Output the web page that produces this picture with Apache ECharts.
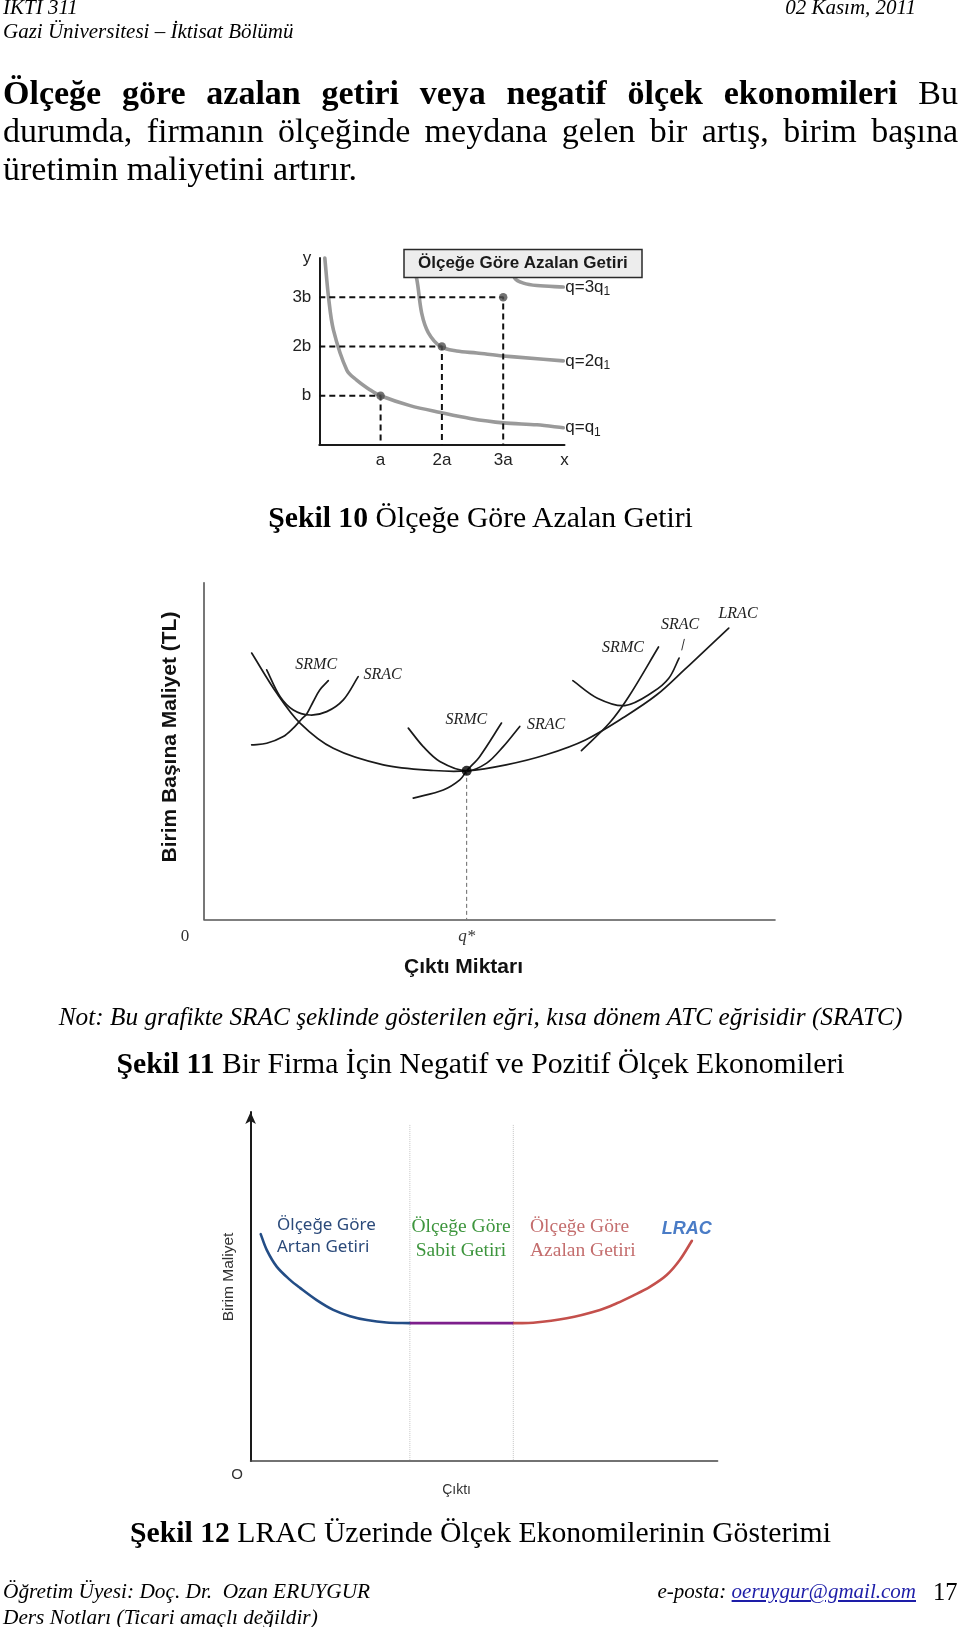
<!DOCTYPE html>
<html><head><meta charset="utf-8">
<script src="https://cdn.jsdelivr.net/npm/echarts@6/dist/echarts.min.js"></script>
<style>
html,body{margin:0;padding:0;background:#fff;}
#page{position:relative;width:960px;height:1627px;overflow:hidden;background:#fff;}
#chart{position:absolute;left:0;top:0;width:960px;height:1627px;}
.t{position:absolute;font-family:'Liberation Serif','Times New Roman',serif;color:#000;white-space:pre;}
.j{text-align:justify;text-align-last:justify;white-space:normal;}
a{color:#1d1da8;}
</style></head><body>
<div id="page">
<div id="chart"></div>
<div class="t" style="left:3px;top:-5px;font-size:21px;line-height:24px;font-style:italic">IKTI 311</div>
<div class="t" style="left:3px;top:19px;font-size:21px;line-height:24px;font-style:italic">Gazi Üniversitesi – İktisat Bölümü</div>
<div class="t" style="right:44px;top:-5px;font-size:21px;line-height:24px;font-style:italic">02 Kasım, 2011</div>

<div class="t j" style="left:3px;top:73.5px;width:955px;font-size:34px;line-height:38px"><b>Ölçeğe göre azalan getiri veya negatif ölçek ekonomileri</b> Bu</div>
<div class="t j" style="left:3px;top:111.5px;width:955px;font-size:34px;line-height:38px">durumda, firmanın ölçeğinde meydana gelen bir artış, birim başına</div>
<div class="t" style="left:3px;top:149.5px;font-size:34px;line-height:38px">üretimin maliyetini artırır.</div>

<div class="t" style="left:0;width:961px;text-align:center;top:500px;font-size:29.7px;line-height:34px"><b>Şekil 10</b> Ölçeğe Göre Azalan Getiri</div>
<div class="t" style="left:0;width:961px;text-align:center;top:999px;font-size:25.3px;line-height:34px;font-style:italic">Not: Bu grafikte SRAC şeklinde gösterilen eğri, kısa dönem ATC eğrisidir (SRATC)</div>
<div class="t" style="left:0;width:961px;text-align:center;top:1046px;font-size:29.7px;line-height:34px"><b>Şekil 11</b> Bir Firma İçin Negatif ve Pozitif Ölçek Ekonomileri</div>
<div class="t" style="left:0;width:961px;text-align:center;top:1515px;font-size:29.7px;line-height:34px"><b>Şekil 12</b> LRAC Üzerinde Ölçek Ekonomilerinin Gösterimi</div>

<div class="t" style="left:3px;top:1579px;font-size:21.3px;line-height:24px;font-style:italic">Öğretim Üyesi: Doç. Dr.  Ozan ERUYGUR</div>
<div class="t" style="left:3px;top:1605px;font-size:21.3px;line-height:24px;font-style:italic">Ders Notları (Ticari amaçlı değildir)</div>
<div class="t" style="right:44px;top:1579px;font-size:21px;line-height:24px;font-style:italic">e-posta: <a href="mailto:oeruygur@gmail.com">oeruygur@gmail.com</a></div>
<div class="t" style="left:933px;top:1578px;font-size:24.5px;line-height:28px">17</div>
</div>
<script>
// ---------- Şekil 10 data ----------
const fig10XTicks = [{value:1,label:'a'},{value:2,label:'2a'},{value:3,label:'3a'},{value:4,label:'x'}];
const fig10YTicks = [{value:1,label:'b'},{value:2,label:'2b'},{value:3,label:'3b'},{value:3.8,label:'y'}];
const fig10Q1 = [[0.09,3.8],[0.15,3.01],[0.23,2.34],[0.45,1.52],[0.61,1.32],[0.83,1.12],[1.0,1.0],[1.48,0.8],[1.98,0.66],[2.46,0.54],[3.0,0.45],[3.55,0.41],[3.98,0.35]];
const fig10Q2 = [[1.5,3.75],[1.59,3.37],[1.67,2.68],[1.78,2.28],[1.98,2.0],[2.24,1.91],[2.57,1.87],[3.0,1.81],[3.98,1.71]];
const fig10Q3 = [[3.1,3.75],[3.19,3.39],[3.33,3.29],[3.55,3.24],[3.98,3.21]];
const fig10Points = [[1,1],[2,2],[3,3]];
const fig10CurveNames = ['q=q', 'q=2q', 'q=3q'];

// ---------- Şekil 11 data ----------
const fig11XTicks = [{value:0,label:'0'},{value:46,label:'q*'}];
const fig11LRAC = [[8.35,79.1],[12.73,67.2],[16.81,58.3],[22.64,50.8],[31.4,45.9],[40.2,44.2],[46.0,44.1],[52.9,45.9],[59.9,48.9],[66.8,53.3],[73.7,60.2],[79.3,66.7],[84.1,74.1],[91.9,86.5]];
const fig11SRAC1 = [[10.98,74.1],[13.31,66.2],[15.64,62.2],[18.56,60.7],[21.49,61.7],[24.4,65.2],[27.0,72.1]];
const fig11SRMC1 = [[8.35,51.8],[10.98,52.3],[13.89,54.3],[15.64,56.8],[17.11,59.5],[17.99,61.0],[19.14,64.7],[20.3,68.2],[21.77,70.9]];
const fig11SRAC2 = [[35.78,56.8],[38.4,51.3],[41.3,46.9],[46.0,44.1],[49.5,46.4],[52.4,51.3],[55.3,57.3]];
const fig11SRMC2 = [[36.65,36.0],[41.9,38.4],[44.8,41.4],[46.0,44.1],[48.3,48.4],[52.1,58.3]];
const fig11SRAC3 = [[64.6,70.9],[68.9,65.7],[73.7,63.5],[78.6,67.5],[81.4,71.6],[83.2,77.6]];
const fig11SRMC3 = [[66.1,50.1],[71.0,58.3],[74.4,66.2],[79.6,80.9]];
const fig11Leader = [[84.13,83.3],[83.66,79.9]];
const fig11Min = [46.0,44.1];

// ---------- Şekil 12 data ----------
const fig12Increasing = [[2.16,65.0],[3.45,60.5],[5.59,55.7],[8.44,51.9],[10.58,49.6],[14.15,46.1],[17.7,43.3],[21.3,41.5],[24.9,40.4],[29.1,39.7],[34.1,39.5]];
const fig12Constant = [[34.1,39.5],[56.25,39.5]];
const fig12Decreasing = [[56.25,39.5],[60.5,39.6],[67.7,40.9],[74.8,43.3],[78.4,45.2],[81.9,47.4],[85.5,49.9],[89.1,53.3],[91.9,57.6],[94.5,63.1]];
const fig12Boundaries = [34.1,56.25];
const fig12BoundaryTop = 96.3;
const fig12XTicks = [{value:0,label:'O'}];

const serif = "'Liberation Serif','Times New Roman',serif";
const sans = "'Liberation Sans',Arial,sans-serif";
function lookup(ticks){ return v => { const t = ticks.find(t => Math.abs(t.value - v) < 1e-6); return t ? t.label : ''; }; }
const noSplit = {show:false};
const noTick = {show:false};

// smooth path through screen points (tangent = direction of neighbours, handles = segment/3)
function splinePath(pts){
  const n = pts.length;
  const tan = pts.map((p,i) => {
    const a = pts[Math.max(0,i-1)], b = pts[Math.min(n-1,i+1)];
    const dx = b[0]-a[0], dy = b[1]-a[1]; const l = Math.hypot(dx,dy) || 1;
    return [dx/l, dy/l];
  });
  let d = 'M' + pts[0][0] + ' ' + pts[0][1];
  for (let i = 0; i < n-1; i++){
    const p = pts[i], q = pts[i+1]; const L = Math.hypot(q[0]-p[0], q[1]-p[1]) / 3;
    d += ' C' + (p[0]+tan[i][0]*L) + ' ' + (p[1]+tan[i][1]*L) + ' ' + (q[0]-tan[i+1][0]*L) + ' ' + (q[1]-tan[i+1][1]*L) + ' ' + q[0] + ' ' + q[1];
  }
  return d;
}
function curve(data, axisIdx, stroke, width, label){
  return {
    type:'custom', xAxisIndex:axisIdx, yAxisIndex:axisIdx, data:data, silent:true, z:2,
    renderItem:(params, api) => {
      if (params.dataIndex !== 0) return null;
      const pts = data.map(d => api.coord(d));
      const children = [{type:'path', shape:{pathData:splinePath(pts)}, style:{stroke:stroke, lineWidth:width, fill:'none', lineCap:'round', lineJoin:'round'}}];
      if (label){
        const e = pts[pts.length-1];
        children.push({type:'text', x:e[0]+2, y:e[1], style:Object.assign({align:'left', verticalAlign:'middle'}, label)});
      }
      return {type:'group', children:children};
    }
  };
}

const chart = echarts.init(document.getElementById('chart'));

const series = [];
const qRich = {t:{fontFamily:sans, fontSize:17, fill:'#1e1e1e', color:'#1e1e1e'}, s:{fontFamily:sans, fontSize:12, fill:'#1e1e1e', color:'#1e1e1e', padding:[9,0,0,0]}};
[fig10Q1, fig10Q2, fig10Q3].forEach((d, i) => {
  series.push(curve(d, 0, '#9a9a9a', 3.6, {text:'{t|' + fig10CurveNames[i] + '}{s|1}', rich:qRich}));
});
fig10Points.forEach(p => {
  series.push({type:'line', xAxisIndex:0, yAxisIndex:0, data:[[0,p[1]],p,[p[0],0]], showSymbol:false, silent:true, z:3,
    lineStyle:{color:'#111', width:2, type:[6,4]}});
});
series.push({type:'scatter', xAxisIndex:0, yAxisIndex:0, data:fig10Points, symbolSize:8.5, z:4, itemStyle:{color:'#505050'}, silent:true});

[fig11LRAC, fig11SRAC1, fig11SRMC1, fig11SRAC2, fig11SRMC2, fig11SRAC3, fig11SRMC3].forEach(d => {
  series.push(curve(d, 1, '#1a1a1a', 1.7));
});
series.push({type:'line', xAxisIndex:1, yAxisIndex:1, data:fig11Leader, showSymbol:false, silent:true, lineStyle:{color:'#333', width:1}});
series.push({type:'line', xAxisIndex:1, yAxisIndex:1, data:[fig11Min,[fig11Min[0],0]], showSymbol:false, silent:true, lineStyle:{color:'#666', width:1, type:[4,3]}});
series.push({type:'scatter', xAxisIndex:1, yAxisIndex:1, data:[fig11Min], symbolSize:10, z:5, itemStyle:{color:'#000'}, silent:true});

series.push(curve(fig12Increasing, 2, '#234d86', 2.6));
series.push({type:'line', xAxisIndex:2, yAxisIndex:2, data:fig12Constant, showSymbol:false, silent:true, lineStyle:{color:'#7d1f8c', width:2.6}});
series.push(curve(fig12Decreasing, 2, '#c4504c', 2.6));
fig12Boundaries.forEach(b => {
  series.push({type:'line', xAxisIndex:2, yAxisIndex:2, data:[[b,fig12BoundaryTop],[b,0]], showSymbol:false, silent:true, z:1,
    lineStyle:{color:'#c4c4c4', width:1, type:'dotted'}});
});

function txt(x, y, text, style){
  return {type:'text', x:x, y:y, silent:true, z:10, style:Object.assign({text:text, align:'center', verticalAlign:'middle', textAlign:'center', textVerticalAlign:'middle'}, style)};
}
const f11Lab = {fontFamily:serif, fontStyle:'italic', fontSize:16, fill:'#222'};

const option = {
  animation:false,
  backgroundColor:'transparent',
  title:[{
    text:'Ölçeğe Göre Azalan Getiri', left:403.5, top:249.5, padding:[4,14.5,5,14.5],
    backgroundColor:'#ededed', borderColor:'#2a2a2a', borderWidth:1.5,
    textStyle:{fontFamily:sans, fontWeight:'bold', fontSize:17, color:'#1a1a1a', lineHeight:19}
  }],
  grid:[
    {left:319.3, top:258, width:245.2, height:187},
    {left:204, top:582.7, width:571, height:336.6},
    {left:250.6, top:1112, width:467, height:349}
  ],
  xAxis:[
    {gridIndex:0, type:'value', min:0, max:4, splitLine:noSplit, axisTick:noTick,
      axisLine:{lineStyle:{color:'#1a1a1a', width:2}},
      axisLabel:{customValues:fig10XTicks.map(t=>t.value), formatter:lookup(fig10XTicks), margin:7, fontFamily:sans, fontSize:17, color:'#222'}},
    {gridIndex:1, type:'value', min:0, max:100, splitLine:noSplit, axisTick:noTick,
      axisLine:{lineStyle:{color:'#555', width:1.6}},
      axisLabel:{customValues:fig11XTicks.map(t=>t.value), margin:9,
        formatter:v => v === 0 ? '{z|' + lookup(fig11XTicks)(v) + '}' : '{q|' + lookup(fig11XTicks)(v) + '}',
        rich:{z:{fontFamily:serif, fontSize:17, color:'#333', padding:[0,38,0,0]}, q:{fontFamily:serif, fontStyle:'italic', fontSize:17, color:'#333'}}},
      name:'Çıktı Miktarı', nameLocation:'middle', nameGap:37,
      nameTextStyle:{fontFamily:sans, fontWeight:'bold', fontSize:21, color:'#111', padding:[0,52,0,0]}},
    {gridIndex:2, type:'value', min:0, max:100, splitLine:noSplit, axisTick:noTick,
      axisLine:{lineStyle:{color:'#444', width:1.6}},
      axisLabel:{customValues:fig12XTicks.map(t=>t.value), formatter:lookup(fig12XTicks), margin:6,
        fontFamily:sans, fontSize:15, color:'#333', padding:[0,27,0,0]},
      name:'Çıktı', nameLocation:'middle', nameGap:13,
      nameTextStyle:{fontFamily:sans, fontSize:14, color:'#333', padding:[0,55,0,0]}}
  ],
  yAxis:[
    {gridIndex:0, type:'value', min:0, max:3.8, splitLine:noSplit, axisTick:noTick,
      axisLine:{lineStyle:{color:'#1a1a1a', width:2}},
      axisLabel:{customValues:fig10YTicks.map(t=>t.value), formatter:lookup(fig10YTicks), margin:8, fontFamily:sans, fontSize:17, color:'#222'}},
    {gridIndex:1, type:'value', min:0, max:100, splitLine:noSplit, axisTick:noTick,
      axisLine:{lineStyle:{color:'#555', width:1.6}}, axisLabel:{show:false},
      name:'Birim Başına Maliyet (TL)', nameLocation:'middle', nameGap:23,
      nameTextStyle:{fontFamily:sans, fontWeight:'bold', fontSize:21, color:'#111', padding:[0,0,0,28]}},
    {gridIndex:2, type:'value', min:0, max:100, splitLine:noSplit, axisTick:noTick,
      axisLine:{symbol:['none','arrow'], symbolSize:[8,12], lineStyle:{color:'#1a1a1a', width:2}}, axisLabel:{show:false},
      name:'Birim Maliyet', nameLocation:'middle', nameGap:14,
      nameTextStyle:{fontFamily:sans, fontSize:15.5, color:'#333', padding:[0,0,0,19]}}
  ],
  series:series,
  graphic:[
    txt(316.2, 665, 'SRMC', f11Lab),
    txt(382.5, 675, 'SRAC', f11Lab),
    txt(466.3, 719.3, 'SRMC', f11Lab),
    txt(546, 725, 'SRAC', f11Lab),
    txt(623, 647.3, 'SRMC', f11Lab),
    txt(680, 625, 'SRAC', f11Lab),
    txt(738, 613.3, 'LRAC', f11Lab),
    txt(277, 1236, 'Ölçeğe Göre\nArtan Getiri', {align:'left', textAlign:'left', fontFamily:"'Noto Sans',sans-serif", fontSize:17, lineHeight:21.7, fill:'#2b4a7a'}),
    txt(461, 1238.7, 'Ölçeğe Göre\nSabit Getiri', {fontFamily:serif, fontSize:19.5, lineHeight:24, fill:'#3d953d'}),
    txt(530, 1238.7, 'Ölçeğe Göre\nAzalan Getiri', {align:'left', textAlign:'left', fontFamily:serif, fontSize:19.5, lineHeight:24, fill:'#c46e6e'}),
    txt(661.7, 1229, 'LRAC', {align:'left', textAlign:'left', fontFamily:sans, fontStyle:'italic', fontWeight:'bold', fontSize:18, fill:'#4a7cc6'})
  ]
};
chart.setOption(option);
</script>
</body></html>
